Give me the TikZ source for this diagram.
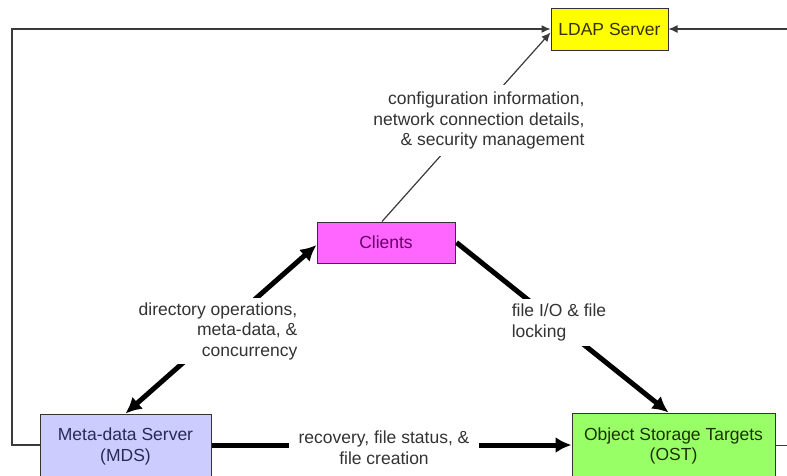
\documentclass[tikz,border=0pt]{standalone}
\usepackage{fontspec}
\setmainfont{Liberation Sans}
\usetikzlibrary{arrows.meta}

\definecolor{ldapfill}{HTML}{FFFF00}
\definecolor{clientfill}{HTML}{FF66FF}
\definecolor{mdsfill}{HTML}{CCCCFF}
\definecolor{ostfill}{HTML}{99FF66}
\definecolor{ldaptext}{HTML}{333300}
\definecolor{clienttext}{HTML}{660066}
\definecolor{mdstext}{HTML}{2A2A55}
\definecolor{osttext}{HTML}{1A3300}
\definecolor{labelgray}{HTML}{333333}
\definecolor{linegray}{HTML}{3A3A3A}

\begin{document}
\begin{tikzpicture}[x=1pt,y=-1pt,
  every node/.style={font=\fontsize{17.5}{20.5}\selectfont},
  box/.style={draw=labelgray, line width=1pt, inner sep=0pt, align=center},
  feed/.style={draw=linegray, line width=1.2pt, -{Latex[length=9pt,width=8pt]}},
  heavy/.style={draw=black, line width=5pt, -{Latex[length=16pt,width=16pt]}},
  heavyboth/.style={draw=black, line width=5pt, {Latex[length=16pt,width=16pt]}-{Latex[length=16pt,width=16pt]}},
  lbl/.style={fill=white, text=labelgray, inner sep=5pt}]

\useasboundingbox (0,0) rectangle (787,475);

% servers and clients
\node[box, fill=ldapfill, text=ldaptext, minimum width=117pt, minimum height=42pt] (ldap) at (609.5,29.5) {LDAP Server};
\node[box, fill=clientfill, text=clienttext, minimum width=138pt, minimum height=41pt] (clients) at (386,242.5) {Clients};
\node[box, fill=mdsfill, text=mdstext, minimum width=171pt, minimum height=65pt] (mds) at (125.5,446.5) {Meta-data Server\\(MDS)};
\node[box, fill=ostfill, text=osttext, minimum width=203pt, minimum height=66pt] (ost) at (673.5,446) {Object Storage Targets\\(OST)};

% configuration links to the LDAP server
\draw[feed] ([yshift=1.5pt]mds.west) -| (12,29) -- ([yshift=0.5pt]ldap.west);
\draw[feed] ([yshift=0.5pt]ost.east) -| (790,29) -- ([yshift=0.5pt]ldap.east);
\draw[feed] ([xshift=-4pt]clients.north) -- ([yshift=-3pt]ldap.west);

% data paths
\draw[heavyboth] (mds.north) -- ([yshift=-2.5pt]clients.west);
\draw[heavy] ([xshift=1pt]clients.east) -- ([xshift=-5pt]ost.north);
\draw[heavy] ([yshift=1.5pt]mds.east) -- ([yshift=1pt]ost.west);

% link labels
\node[lbl, align=right, inner ysep=7pt] (cfg) at (479,120.5) {configuration information,\\network connection details,\\\& security management};
\node[lbl, align=right, inner ysep=4pt] (dir) at (218,331) {directory operations,\\meta-data, \&\\concurrency};
\node[lbl, align=left, inner ysep=5pt] (fio) at (559,322.5) {file I/O \& file\\locking};
\node[lbl, align=center, inner xsep=10pt, inner ysep=3pt] (rec) at (384,447.5) {recovery, file status, \&\\file creation};

\end{tikzpicture}
\end{document}
